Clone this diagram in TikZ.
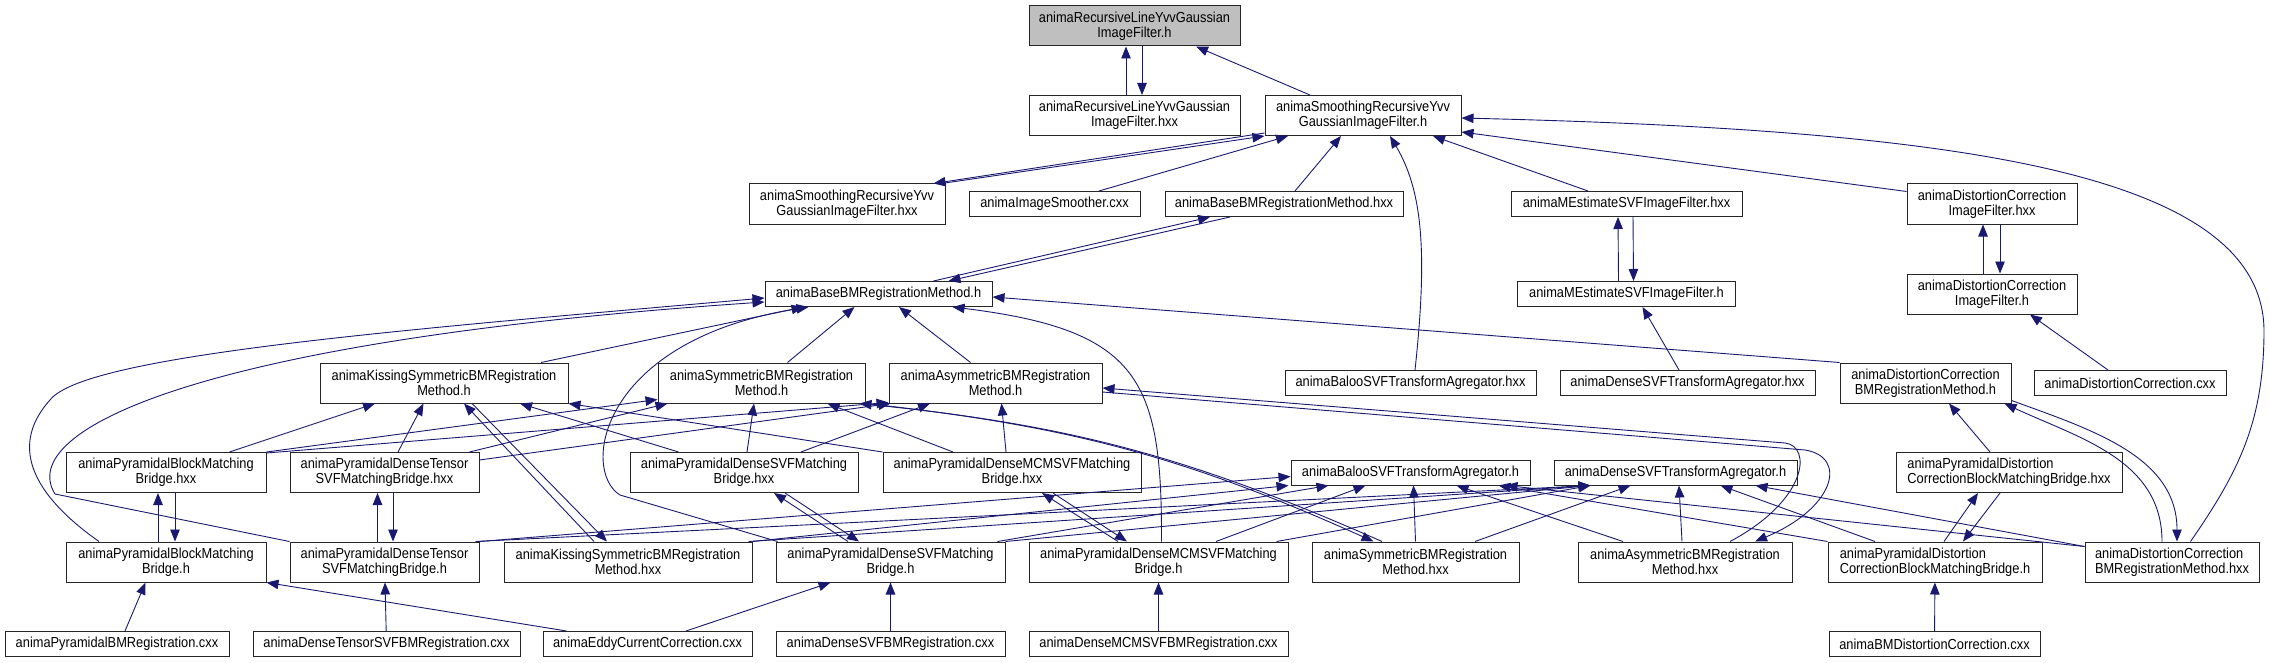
\documentclass[tikz,border=0pt]{standalone}
\usepackage{fontspec}
\setmainfont{Liberation Sans}[FakeStretch=0.885]
\usepackage{tikz}
\usetikzlibrary{arrows.meta, positioning}
\definecolor{depblue}{RGB}{25,25,112}
\definecolor{rootgray}{RGB}{191,191,191}
\newcommand{\dotfont}{\fontsize{14.5pt}{14.9pt}\selectfont}
\tikzstyle{filebox}=[draw=black!85, line width=1pt, fill=white, rectangle, minimum height=25pt, inner sep=2pt, align=center]
\tikzstyle{twoline}=[minimum height=40pt]
\tikzstyle{rootfile}=[filebox, twoline, fill=rootgray]
\tikzstyle{dep}=[->, draw=depblue, line width=0.9pt]
\tikzstyle{every node}=[font=\dotfont]

\begin{document}
\begin{tikzpicture}[x=1pt, y=1pt, >={Triangle[length=12pt,width=9.5pt]}]
    \useasboundingbox (0,0) rectangle (2269,-663);
    \node[rootfile, minimum width=211pt] (R) at (1134.5,-26) {animaRecursiveLineYvvGaussian\\ImageFilter.h};
    \node[filebox, twoline, minimum width=211pt, below of=R, node distance=89.5pt] (Rx) {animaRecursiveLineYvvGaussian\\ImageFilter.hxx};
    \node[filebox, twoline, minimum width=196pt, right of=Rx, node distance=228.5pt] (S) {animaSmoothingRecursiveYvv\\GaussianImageFilter.h};
    \node[filebox, twoline, minimum width=196pt, below of=Rx, node distance=88.5pt, xshift=-287.5pt] (Sx) {animaSmoothingRecursiveYvv\\GaussianImageFilter.hxx};
    \node[filebox, minimum width=171pt, right of=Sx, node distance=207.5pt] (IS) {animaImageSmoother.cxx};
    \node[filebox, minimum width=238pt, right of=IS, node distance=229.5pt] (Bx) {animaBaseBMRegistrationMethod.hxx};
    \node[filebox, minimum width=231pt, right of=Bx, node distance=342.5pt] (Mx) {animaMEstimateSVFImageFilter.hxx};
    \node[filebox, twoline, minimum width=170pt, right of=Mx, node distance=365.5pt] (Dx) {animaDistortionCorrection\\ImageFilter.hxx};
    \node[filebox, minimum width=227pt, below of=Sx, node distance=90pt, xshift=31.5pt] (B) {animaBaseBMRegistrationMethod.h};
    \node[filebox, minimum width=218pt, below of=Mx, node distance=90pt] (M) {animaMEstimateSVFImageFilter.h};
    \node[filebox, twoline, minimum width=170pt, below of=Dx, node distance=90pt] (D) {animaDistortionCorrection\\ImageFilter.h};
    \node[filebox, twoline, minimum width=248pt, below of=B, node distance=89pt, xshift=-434.5pt] (K) {animaKissingSymmetricBMRegistration\\Method.h};
    \node[filebox, twoline, minimum width=207pt, right of=K, node distance=317.5pt] (Sy) {animaSymmetricBMRegistration\\Method.h};
    \node[filebox, twoline, minimum width=213pt, right of=Sy, node distance=234pt] (A) {animaAsymmetricBMRegistration\\Method.h};
    \node[filebox, minimum width=251pt, right of=A, node distance=415pt] (BAx) {animaBalooSVFTransformAgregator.hxx};
    \node[filebox, minimum width=255pt, right of=BAx, node distance=277pt] (DAx) {animaDenseSVFTransformAgregator.hxx};
    \node[filebox, twoline, minimum width=171pt, right of=DAx, node distance=238pt] (DB) {animaDistortionCorrection\\BMRegistrationMethod.h};
    \node[filebox, minimum width=192pt, right of=DB, node distance=204.5pt] (DC) {animaDistortionCorrection.cxx};
    \node[filebox, twoline, minimum width=200pt, below of=K, node distance=89.5pt, xshift=-278pt] (PBx) {animaPyramidalBlockMatching\\Bridge.hxx};
    \node[filebox, twoline, minimum width=189pt, right of=PBx, node distance=218.5pt] (PTx) {animaPyramidalDenseTensor\\SVFMatchingBridge.hxx};
    \node[filebox, twoline, minimum width=228pt, right of=PTx, node distance=359.5pt] (PSx) {animaPyramidalDenseSVFMatching\\Bridge.hxx};
    \node[filebox, twoline, minimum width=258pt, right of=PSx, node distance=268pt] (PMx) {animaPyramidalDenseMCMSVFMatching\\Bridge.hxx};
    \node[filebox, minimum width=239pt, right of=PMx, node distance=398.5pt] (BA) {animaBalooSVFTransformAgregator.h};
    \node[filebox, minimum width=243pt, right of=BA, node distance=265pt] (DA) {animaDenseSVFTransformAgregator.h};
    \node[filebox, twoline, minimum width=226pt, align=left, right of=DA, node distance=333.5pt] (PDx) {animaPyramidalDistortion\\CorrectionBlockMatchingBridge.hxx};
    \node[filebox, twoline, minimum width=200pt, below of=PBx, node distance=89.5pt] (PB) {animaPyramidalBlockMatching\\Bridge.h};
    \node[filebox, twoline, minimum width=189pt, right of=PB, node distance=218.5pt] (PT) {animaPyramidalDenseTensor\\SVFMatchingBridge.h};
    \node[filebox, twoline, minimum width=248pt, right of=PT, node distance=243.5pt] (Kx) {animaKissingSymmetricBMRegistration\\Method.hxx};
    \node[filebox, twoline, minimum width=229pt, right of=Kx, node distance=262.5pt] (PS) {animaPyramidalDenseSVFMatching\\Bridge.h};
    \node[filebox, twoline, minimum width=259pt, right of=PS, node distance=268pt] (PM) {animaPyramidalDenseMCMSVFMatching\\Bridge.h};
    \node[filebox, twoline, minimum width=207pt, right of=PM, node distance=257pt] (Syx) {animaSymmetricBMRegistration\\Method.hxx};
    \node[filebox, twoline, minimum width=214pt, right of=Syx, node distance=269.5pt] (Ax) {animaAsymmetricBMRegistration\\Method.hxx};
    \node[filebox, twoline, minimum width=214pt, align=left, right of=Ax, node distance=250pt] (PD) {animaPyramidalDistortion\\CorrectionBlockMatchingBridge.h};
    \node[filebox, twoline, minimum width=174pt, align=left, right of=PD, node distance=237pt] (DBx) {animaDistortionCorrection\\BMRegistrationMethod.hxx};
    \node[filebox, minimum width=224pt, below of=PB, node distance=82pt, xshift=-49pt] (PBc) {animaPyramidalBMRegistration.cxx};
    \node[filebox, minimum width=267pt, right of=PBc, node distance=269.5pt] (DTc) {animaDenseTensorSVFBMRegistration.cxx};
    \node[filebox, minimum width=209pt, right of=DTc, node distance=261pt] (EC) {animaEddyCurrentCorrection.cxx};
    \node[filebox, minimum width=229pt, right of=EC, node distance=243pt] (DSc) {animaDenseSVFBMRegistration.cxx};
    \node[filebox, minimum width=259pt, right of=DSc, node distance=268pt] (DMc) {animaDenseMCMSVFBMRegistration.cxx};
    \node[filebox, minimum width=211pt, right of=DMc, node distance=776pt] (BMc) {animaBMDistortionCorrection.cxx};
    \coordinate (bend) at (2264,-330);
    \draw[dep] ([xshift=-8.5pt]Rx.north) -- ([xshift=-8.5pt]R.south);
    \draw[dep] ([xshift=7.5pt]R.south) -- ([xshift=7.5pt]Rx.north);
    \draw[dep] ([xshift=-53pt]S.north) -- ([xshift=61.5pt]R.south);
    \draw[dep] ([xshift=-4pt]Sx.north east) -- (S.south west);
    \draw[dep] ([yshift=3pt]S.south west) -- ([xshift=-12pt]Sx.north east);
    \draw[dep] ([xshift=44.5pt]IS.north) -- ([xshift=-75pt]S.south);
    \draw[dep] ([xshift=11pt]Bx.north) -- ([xshift=-22pt]S.south);
    \draw[dep] ([xshift=4.5pt]BAx.north) .. controls (1428,-250) and (1422,-190) .. ([xshift=27pt]S.south);
    \draw[dep] ([xshift=-38.5pt]Mx.north) -- ([xshift=70pt]S.south);
    \draw[dep] ([yshift=-8pt]Dx.north west) -- ([yshift=-16.5pt]S.east);
    \draw[dep] ([xshift=18.5pt]DBx.north) .. controls (2240,-470) and (2264,-420) .. (bend) .. controls (2262,-170) and (1950,-130) .. ([yshift=-2.5pt]S.east);
    \draw[dep] ([xshift=55pt]B.north) -- ([xshift=-74pt]Bx.south);
    \draw[dep] ([xshift=-54pt]Bx.south) -- ([xshift=70pt]B.north);
    \draw[dep] ([xshift=-8pt]M.north) -- ([xshift=-8.5pt]Mx.south);
    \draw[dep] ([xshift=6.5pt]Mx.south) -- ([xshift=7pt]M.north);
    \draw[dep] ([xshift=-9pt]D.north) -- ([xshift=-9pt]Dx.south);
    \draw[dep] ([xshift=8pt]Dx.south) -- ([xshift=8pt]D.north);
    \draw[dep] ([xshift=-22pt]DC.north) -- ([xshift=38pt]D.south);
    \draw[dep] ([xshift=-8.5pt]DAx.north) -- ([xshift=16pt]M.south);
    \draw[dep] (DB.north west) -- ([yshift=-3pt]B.east);
    \draw[dep] ([xshift=-67pt]PB.north) .. controls (40,-500) and (5,-450) .. (50,-400) .. controls (85,-355) and (400,-330) .. ([yshift=-4pt]B.west);
    \draw[dep] (PT.north west) -- (55,-494) .. controls (15,-430) and (200,-340) .. ([yshift=-8pt]B.west);
    \draw[dep] ([xshift=97pt]K.north) -- ([xshift=-75pt]B.south);
    \draw[dep] ([xshift=2pt]PS.north west) -- (620,-495) .. controls (580,-470) and (600,-340) .. ([xshift=-70pt]B.south);
    \draw[dep] ([xshift=26pt]Sy.north) -- ([xshift=-24pt]B.south);
    \draw[dep] ([xshift=-25pt]A.north) -- ([xshift=20.5pt]B.south);
    \draw[dep] ([xshift=3pt]PM.north) .. controls (1162,-380) and (1140,-330) .. ([xshift=74pt]B.south);
    \draw[dep] ([xshift=-34pt]Kx.north) -- ([xshift=20pt]K.south);
    \draw[dep] ([xshift=28pt]K.south) -- ([xshift=-21pt]Kx.north);
    \draw[dep] ([xshift=63.5pt]PBx.north) -- ([xshift=-69pt]K.south);
    \draw[dep] ([xshift=13.5pt]PTx.north) -- ([xshift=-20.5pt]K.south);
    \draw[dep] ([xshift=-65.5pt]PSx.north) -- ([xshift=76pt]K.south);
    \draw[dep] (PMx.north west) -- (K.south east);
    \draw[dep] (PBx.north east) -- ([yshift=4pt]Sy.south west);
    \draw[dep] ([xshift=-10pt]PTx.north east) -- ([xshift=10pt]Sy.south west);
    \draw[dep] ([yshift=-1pt]PBx.north east) -- ([yshift=1pt]A.south west);
    \draw[dep] ([yshift=12.5pt]PTx.east) -- ([xshift=2pt]A.south west);
    \draw[dep] ([xshift=3pt]PSx.north) -- ([xshift=-7.5pt]Sy.south);
    \draw[dep] ([xshift=57pt]PSx.north) -- ([xshift=-65.5pt]A.south);
    \draw[dep] ([xshift=-59pt]PMx.north) -- ([xshift=66pt]Sy.south);
    \draw[dep] ([xshift=-6pt]PMx.north) -- ([xshift=6pt]A.south);
    \draw[dep] (Sy.south east) to[bend left=9] ([xshift=-42pt]Syx.north);
    \draw[dep] ([xshift=-33.5pt]Syx.north) to[bend right=9] ([xshift=-6pt]Sy.south east);
    \draw[dep] ([yshift=-9pt]A.east) -- (1805,-450) .. controls (1848,-457) and (1835,-508) .. ([xshift=70pt]Ax.north);
    \draw[dep] ([xshift=45pt]Ax.north) .. controls (1808,-500) and (1812,-446) .. (1785,-443) -- ([yshift=-5pt]A.east);
    \draw[dep] ([xshift=-8pt]PB.north) -- ([xshift=-8pt]PBx.south);
    \draw[dep] ([xshift=9pt]PBx.south) -- ([xshift=9pt]PB.north);
    \draw[dep] ([xshift=-7pt]PT.north) -- ([xshift=-7pt]PTx.south);
    \draw[dep] ([xshift=8.5pt]PTx.south) -- ([xshift=8.5pt]PT.north);
    \draw[dep] ([xshift=-42.5pt]PS.north) -- ([xshift=30pt]PSx.south);
    \draw[dep] ([xshift=41pt]PSx.south) -- ([xshift=-31.5pt]PS.north);
    \draw[dep] ([xshift=-40.5pt]PM.north) -- ([xshift=30pt]PMx.south);
    \draw[dep] ([xshift=41pt]PMx.south) -- ([xshift=-31.5pt]PM.north);
    \draw[dep] ([xshift=9pt]PD.north) -- ([xshift=-31pt]PDx.south);
    \draw[dep] ([xshift=-9pt]PDx.south) -- ([xshift=28pt]PD.north);
    \draw[dep] ([xshift=-19pt]PDx.north) -- ([xshift=23.5pt]DB.south);
    \draw[dep] ([yshift=3pt]DB.south east) to[out=-20,in=90] ([xshift=5pt]DBx.north);
    \draw[dep] ([xshift=-10pt]DBx.north) to[out=90,in=-25] ([xshift=-7pt]DB.south east);
    \draw[dep] (PT.north east) -- ([yshift=-4pt]BA.west);
    \draw[dep] ([xshift=-4pt]PT.north east) -- ([xshift=-85pt]DA.south);
    \draw[dep] (Kx.north east) -- ([xshift=-2pt]BA.south west);
    \draw[dep] ([xshift=-4pt]Kx.north east) -- ([xshift=-85pt]DA.south);
    \draw[dep] ([xshift=-8pt]PS.north east) -- ([xshift=-82pt]BA.south);
    \draw[dep] (PS.north east) -- ([xshift=-85pt]DA.south);
    \draw[dep] ([xshift=57.5pt]PM.north) -- ([xshift=-45pt]BA.south);
    \draw[dep] ([xshift=-12pt]PM.north east) -- ([xshift=-85pt]DA.south);
    \draw[dep] (Syx.north) -- ([xshift=3pt]BA.south);
    \draw[dep] ([xshift=59.5pt]Syx.north) -- ([xshift=-45pt]DA.south);
    \draw[dep] ([xshift=-62pt]Ax.north) -- ([xshift=46pt]BA.south);
    \draw[dep] ([xshift=-3pt]Ax.north) -- ([xshift=3.5pt]DA.south);
    \draw[dep] (PD.north west) -- ([xshift=88pt]BA.south);
    \draw[dep] ([xshift=-60pt]PD.north) -- ([xshift=45pt]DA.south);
    \draw[dep] ([yshift=-5pt]DBx.north west) -- ([xshift=95pt]BA.south);
    \draw[dep] ([yshift=-5pt]DBx.north west) -- ([xshift=80pt]DA.south);
    \draw[dep] ([xshift=24pt]EC.north west) -- (PB.south east);
    \draw[dep] ([xshift=38.5pt]EC.north) -- ([xshift=-60pt]PS.south);
    \draw[dep] ([xshift=8pt]PBc.north) -- ([xshift=-20.5pt]PB.south);
    \draw[dep] (DTc) -- (PT);
    \draw[dep] (DSc) -- (PS);
    \draw[dep] (DMc) -- (PM);
    \draw[dep] (BMc) -- (PD);
\end{tikzpicture}
\end{document}
